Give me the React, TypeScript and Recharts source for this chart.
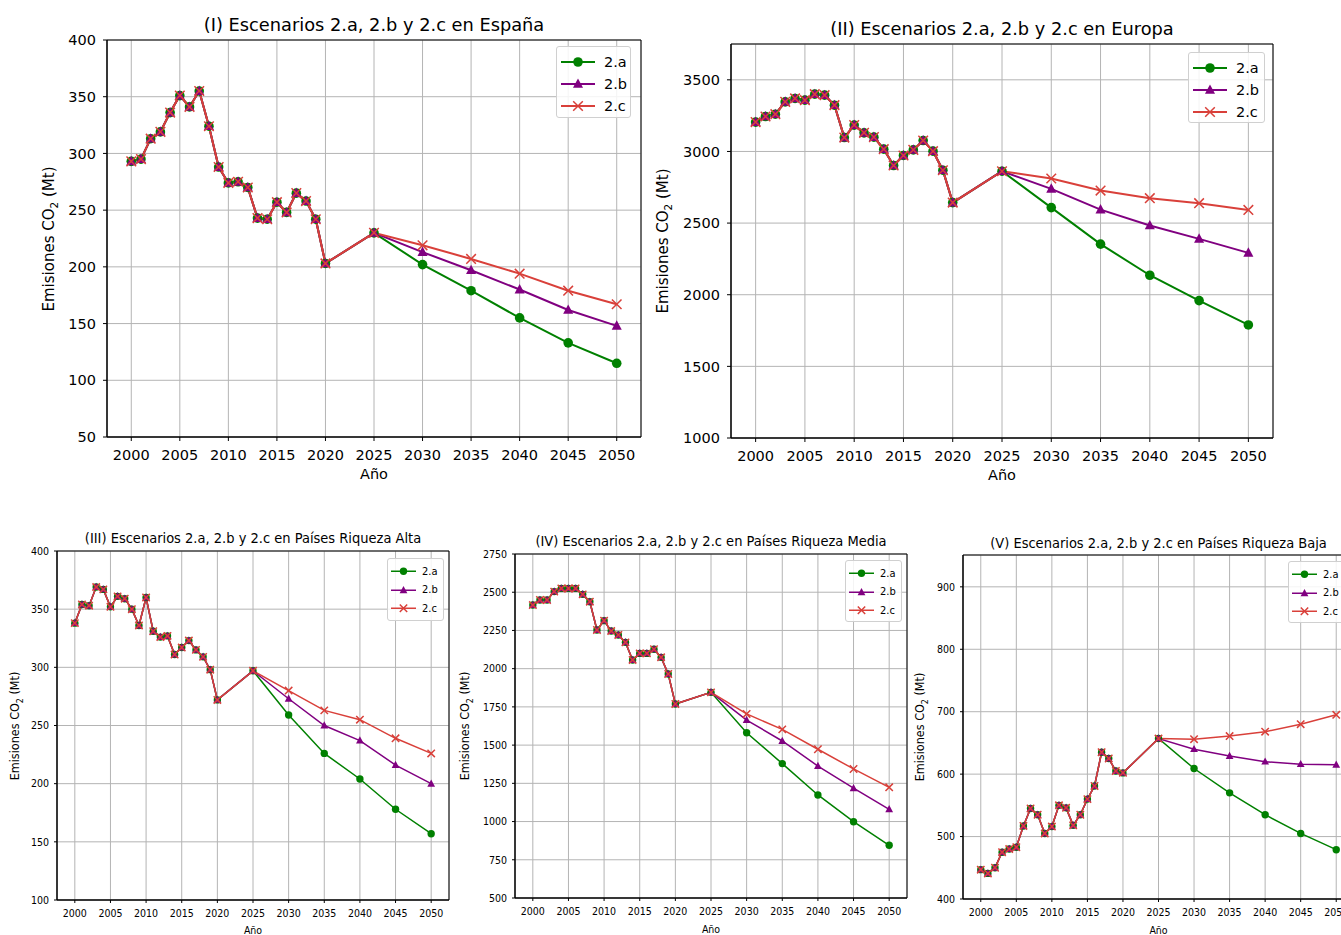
import React from "react";
import { LineChart, Line, XAxis, YAxis, CartesianGrid, ReferenceArea } from "recharts";

// años: histórico 2000-2020 + 2025, escenarios 2030-2050
const histYears = [2000, 2001, 2002, 2003, 2004, 2005, 2006, 2007, 2008, 2009, 2010, 2011, 2012, 2013, 2014, 2015, 2016, 2017, 2018, 2019, 2020, 2025];
const scenYears = [2030, 2035, 2040, 2045, 2050];
const xTicks = [2000, 2005, 2010, 2015, 2020, 2025, 2030, 2035, 2040, 2045, 2050];

// (I) España
const espHist = [293, 295, 313, 319, 336, 351, 341, 355, 324, 288, 274, 275, 270, 243, 242, 257, 248, 265, 258, 242, 203, 230];
const espA = [202, 179, 155, 133, 115];
const espB = [213, 197, 180, 162, 148];
const espC = [219, 207, 194, 179, 167];
const espTicks = [50, 100, 150, 200, 250, 300, 350, 400];

// (II) Europa
const eurHist = [3205, 3244, 3260, 3346, 3370, 3358, 3400, 3393, 3323, 3097, 3184, 3130, 3100, 3016, 2902, 2972, 3011, 3076, 3002, 2869, 2643, 2862];
const eurA = [2608, 2353, 2136, 1959, 1789];
const eurB = [2739, 2594, 2483, 2390, 2292];
const eurC = [2811, 2727, 2674, 2639, 2592];
const eurTicks = [1000, 1500, 2000, 2500, 3000, 3500];

// (III) Riqueza Alta
const altaHist = [338, 354, 353, 369, 367, 352, 361, 359, 350, 336, 360, 331, 326, 327, 311, 317, 323, 315, 309, 298, 272, 297];
const altaA = [259, 226, 204, 178, 157];
const altaB = [273, 250, 237, 216, 200];
const altaC = [280, 263, 255, 239, 226];
const altaTicks = [100, 150, 200, 250, 300, 350, 400];

// (IV) Riqueza Media
const mediaHist = [2416, 2449, 2449, 2504, 2525, 2525, 2525, 2486, 2438, 2253, 2314, 2246, 2220, 2172, 2057, 2100, 2100, 2127, 2074, 1965, 1769, 1845];
const mediaA = [1581, 1379, 1174, 999, 845];
const mediaB = [1664, 1527, 1363, 1218, 1080];
const mediaC = [1704, 1603, 1473, 1344, 1224];
const mediaTicks = [500, 750, 1000, 1250, 1500, 1750, 2000, 2250, 2500, 2750];

// (V) Riqueza Baja
const bajaHist = [447, 441, 450, 475, 480, 483, 517, 545, 535, 505, 516, 550, 546, 518, 535, 560, 581, 635, 625, 605, 602, 657];
const bajaA = [609, 570, 535, 505, 479];
const bajaB = [640, 629, 620, 616, 615];
const bajaC = [656, 661, 668, 680, 695];
const bajaTicks = [400, 500, 600, 700, 800, 900];

const GREEN = "#008000";
const PURPLE = "#800080";
const RED = "#d9403a";
const X_DOMAIN = [1997.5, 2052.5];

function buildRows(hist: number[], a: number[], b: number[], c: number[]) {
  const rows = histYears.map((year, i) => ({ year, a: hist[i], b: hist[i], c: hist[i] }));
  scenYears.forEach((year, i) => rows.push({ year, a: a[i], b: b[i], c: c[i] }));
  return rows;
}

function Mark({ shape, cx, cy, r, color }: any) {
  if (cx == null || cy == null) return null;
  if (shape === "circle") return <circle cx={cx} cy={cy} r={r} fill={color} />;
  if (shape === "tri")
    return (
      <polygon
        points={`${cx},${cy - r * 1.15} ${cx - r * 1.05},${cy + r * 0.8} ${cx + r * 1.05},${cy + r * 0.8}`}
        fill={color}
      />
    );
  return (
    <path
      d={`M${cx - r},${cy - r}L${cx + r},${cy + r}M${cx - r},${cy + r}L${cx + r},${cy - r}`}
      stroke={color}
      strokeWidth={1.5}
      fill="none"
    />
  );
}

const series = [
  { key: "a", name: "2.a", color: GREEN, shape: "circle" },
  { key: "b", name: "2.b", color: PURPLE, shape: "tri" },
  { key: "c", name: "2.c", color: RED, shape: "x" },
];

function Panel({ cfg }: any) {
  const { px, py, pw, ph, data, domain, ticks, big } = cfg;
  const fs = big ? 14.5 : 10.5;
  const font = big ? "DejaVu Sans" : "'DejaVu Sans Condensed', 'Liberation Sans Narrow', 'DejaVu Sans'";
  const yw = big ? 70 : 50;
  const topPad = 14;
  const rightPad = 6;
  const xh = 32;
  const r = big ? 4.8 : 3.7;
  const lw = big ? 2 : 1.5;
  const tickStyle = { fontSize: fs, fill: "#000", fontFamily: font };

  return (
    <>
      <div style={{ position: "absolute", left: px - yw, top: py - topPad }}>
        <LineChart
          width={yw + pw + rightPad}
          height={topPad + ph + xh}
          data={data}
          margin={{ top: topPad, right: rightPad, left: 0, bottom: 0 }}
        >
          <CartesianGrid stroke="#b4b4b4" strokeWidth={1} />
          <XAxis
            dataKey="year"
            type="number"
            domain={X_DOMAIN}
            ticks={xTicks}
            interval={0}
            height={xh}
            tick={tickStyle}
            tickSize={big ? 4 : 3}
            tickMargin={big ? 9 : 7}
            stroke="#000"
            allowDataOverflow
          />
          <YAxis
            type="number"
            domain={domain}
            ticks={ticks}
            interval={0}
            width={yw}
            tick={tickStyle}
            tickSize={big ? 4 : 3}
            tickMargin={big ? 7 : 5}
            stroke="#000"
            allowDataOverflow
          />
          {series.map((s) => (
            <Line
              key={s.key}
              dataKey={s.key}
              stroke={s.color}
              strokeWidth={lw}
              isAnimationActive={false}
              dot={(p: any) => <Mark key={`${s.key}-${p.index}`} shape={s.shape} cx={p.cx} cy={p.cy} r={r} color={s.color} />}
            />
          ))}
          {/* marco negro completo */}
          <ReferenceArea
            x1={X_DOMAIN[0]}
            x2={X_DOMAIN[1]}
            y1={domain[0]}
            y2={domain[1]}
            fill="none"
            fillOpacity={0}
            stroke="#000"
            strokeWidth={1}
            ifOverflow="visible"
          />
        </LineChart>
      </div>
      <div
        style={{
          position: "absolute",
          left: px + pw / 2,
          top: cfg.titleY,
          transform: "translate(-50%, -50%)",
          whiteSpace: "nowrap",
          fontFamily: font,
          fontSize: big ? 17.8 : 14.5,
        }}
      >
        {cfg.title}
      </div>
      <div
        style={{
          position: "absolute",
          left: px + pw / 2,
          top: cfg.xlabelY,
          transform: "translate(-50%, -50%)",
          whiteSpace: "nowrap",
          fontFamily: font,
          fontSize: big ? 14.5 : 10.5,
        }}
      >
        Año
      </div>
      <div
        style={{
          position: "absolute",
          left: cfg.ylabelX,
          top: py + ph / 2,
          transform: "translate(-50%, -50%) rotate(-90deg)",
          whiteSpace: "nowrap",
          fontFamily: font,
          fontSize: big ? 15 : 12.5,
        }}
      >
        Emisiones CO<sub style={{ fontSize: "0.7em" }}>2</sub> (Mt)
      </div>
      <LegendBox cfg={cfg} font={font} big={big} />
    </>
  );
}

function LegendBox({ cfg, font, big }: any) {
  const rowH = big ? 22 : 18.5;
  const lineW = big ? 34 : 25;
  const r = big ? 4.8 : 3.7;
  return (
    <div
      style={{
        position: "absolute",
        left: cfg.lx,
        top: cfg.ly,
        width: cfg.lw,
        height: cfg.lh,
        boxSizing: "border-box",
        border: "1px solid #d0d0d0",
        borderRadius: 3,
        background: "rgba(255,255,255,0.85)",
        fontFamily: font,
        fontSize: big ? 14.5 : 11,
        paddingTop: big ? 4 : 3,
        paddingLeft: big ? 4 : 3,
      }}
    >
      {series.map((s) => (
        <div key={s.key} style={{ display: "flex", alignItems: "center", height: rowH }}>
          <svg width={lineW} height={rowH} style={{ display: "block" }}>
            <line x1={0} x2={lineW} y1={rowH / 2} y2={rowH / 2} stroke={s.color} strokeWidth={big ? 2 : 1.5} />
            <Mark shape={s.shape} cx={lineW / 2} cy={rowH / 2} r={r} color={s.color} />
          </svg>
          <span style={{ marginLeft: big ? 9 : 6 }}>{s.name}</span>
        </div>
      ))}
    </div>
  );
}

const panels = [
  {
    big: true, px: 107, py: 40, pw: 534, ph: 397,
    data: buildRows(espHist, espA, espB, espC), domain: [50, 400], ticks: espTicks,
    title: "(I) Escenarios 2.a, 2.b y 2.c en España", titleY: 24, xlabelY: 474, ylabelX: 50,
    lx: 556, ly: 46, lw: 75, lh: 72,
  },
  {
    big: true, px: 731, py: 44, pw: 542, ph: 394,
    data: buildRows(eurHist, eurA, eurB, eurC), domain: [1000, 3750], ticks: eurTicks,
    title: "(II) Escenarios 2.a, 2.b y 2.c en Europa", titleY: 28, xlabelY: 475, ylabelX: 664,
    lx: 1188, ly: 52, lw: 77, lh: 71,
  },
  {
    big: false, px: 57, py: 551, pw: 392, ph: 349,
    data: buildRows(altaHist, altaA, altaB, altaC), domain: [100, 400], ticks: altaTicks,
    title: "(III) Escenarios 2.a, 2.b y 2.c en Países Riqueza Alta", titleY: 538, xlabelY: 930, ylabelX: 16,
    lx: 387, ly: 558, lw: 57, lh: 63,
  },
  {
    big: false, px: 515, py: 554, pw: 392, ph: 344,
    data: buildRows(mediaHist, mediaA, mediaB, mediaC), domain: [500, 2750], ticks: mediaTicks,
    title: "(IV) Escenarios 2.a, 2.b y 2.c en Países Riqueza Media", titleY: 541, xlabelY: 929, ylabelX: 466,
    lx: 845, ly: 560, lw: 57, lh: 62,
  },
  {
    big: false, px: 963, py: 555, pw: 391, ph: 344,
    data: buildRows(bajaHist, bajaA, bajaB, bajaC), domain: [400, 951], ticks: bajaTicks,
    title: "(V) Escenarios 2.a, 2.b y 2.c en Países Riqueza Baja", titleY: 543, xlabelY: 930, ylabelX: 921,
    lx: 1288, ly: 561, lw: 57, lh: 62,
  },
];

export default function App() {
  return (
    <div
      style={{
        position: "absolute",
        left: 0,
        top: 0,
        width: 1341,
        height: 935,
        overflow: "hidden",
        background: "#fff",
      }}
    >
      {panels.map((cfg, i) => (
        <Panel key={i} cfg={cfg} />
      ))}
    </div>
  );
}
